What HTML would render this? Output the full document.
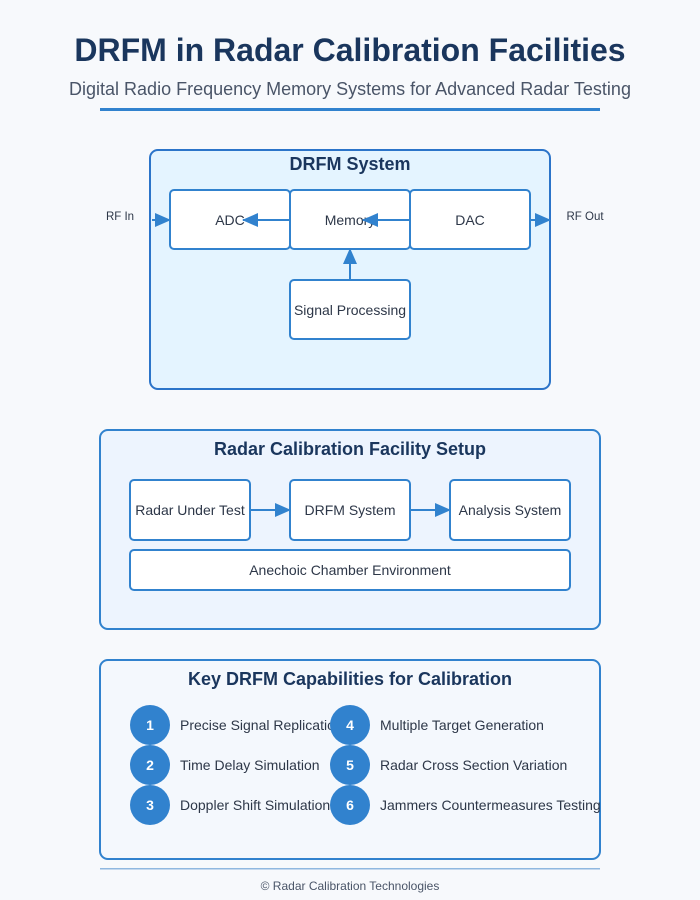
<!DOCTYPE html>
<html><head><meta charset="utf-8"><style>
body{margin:0;background:#f7f9fc;}
svg{display:block;font-family:"Liberation Sans",Arial,sans-serif;}
</style></head><body>
<svg width="700" height="900" viewBox="0 0 700 900">
<defs>
<marker id="b" markerWidth="16" markerHeight="14" refX="15" refY="7" orient="auto" markerUnits="userSpaceOnUse" viewBox="0 0 16 14">
<path d="M0,0 L16,7 L0,14 z" fill="#3182ce"/></marker>
</defs>
<rect width="700" height="900" fill="#f7f9fc"/>
<text x="350" y="61" text-anchor="middle" font-size="32" font-weight="bold" fill="#1a365d">DRFM in Radar Calibration Facilities</text>
<text x="350" y="95" text-anchor="middle" font-size="18" fill="#4a5568">Digital Radio Frequency Memory Systems for Advanced Radar Testing</text>
<rect x="100" y="108" width="500" height="3" fill="#3182ce"/>

<rect x="150" y="150" width="400" height="239" rx="8" fill="#e4f4ff" stroke="#2b74c9" stroke-width="2"/>
<text x="350" y="170" text-anchor="middle" font-size="18" font-weight="bold" fill="#1a365d">DRFM System</text>
<g fill="#fff" stroke="#3182ce" stroke-width="2">
<rect x="170" y="190" width="120" height="59" rx="4"/>
<rect x="290" y="190" width="120" height="59" rx="4"/>
<rect x="410" y="190" width="120" height="59" rx="4"/>
<rect x="290" y="280" width="120" height="59" rx="4"/>
</g>
<g font-size="14" fill="#2d3748" text-anchor="middle">
<text x="230" y="225">ADC</text><text x="350" y="225">Memory</text><text x="470" y="225">DAC</text>
<text x="350" y="315">Signal Processing</text>
</g>
<g stroke="#3182ce" stroke-width="2" fill="none">
<line x1="152" y1="220" x2="170" y2="220" marker-end="url(#b)"/>
<line x1="290" y1="220" x2="243" y2="220" marker-end="url(#b)"/>
<line x1="410" y1="220" x2="363" y2="220" marker-end="url(#b)"/>
<line x1="350" y1="280" x2="350" y2="249" marker-end="url(#b)"/>
<line x1="531" y1="220" x2="550" y2="220" marker-end="url(#b)"/>
</g>
<text x="120" y="220" text-anchor="middle" font-size="11.5" fill="#2d3748">RF In</text>
<text x="585" y="220" text-anchor="middle" font-size="11.5" fill="#2d3748">RF Out</text>

<rect x="100" y="430" width="500" height="199" rx="8" fill="#edf4fe" stroke="#3182ce" stroke-width="2"/>
<text x="350" y="455" text-anchor="middle" font-size="18" font-weight="bold" fill="#1a365d">Radar Calibration Facility Setup</text>
<g fill="#fff" stroke="#3182ce" stroke-width="2">
<rect x="130" y="480" width="120" height="60" rx="4"/>
<rect x="290" y="480" width="120" height="60" rx="4"/>
<rect x="450" y="480" width="120" height="60" rx="4"/>
<rect x="130" y="550" width="440" height="40" rx="4"/>
</g>
<g font-size="14" fill="#2d3748" text-anchor="middle">
<text x="190" y="515">Radar Under Test</text><text x="350" y="515">DRFM System</text><text x="510" y="515">Analysis System</text>
<text x="350" y="575">Anechoic Chamber Environment</text>
</g>
<g stroke="#3182ce" stroke-width="2">
<line x1="250" y1="510" x2="290" y2="510" marker-end="url(#b)"/>
<line x1="410" y1="510" x2="450" y2="510" marker-end="url(#b)"/>
</g>

<rect x="100" y="660" width="500" height="199" rx="8" fill="#f4f8fd" stroke="#3182ce" stroke-width="2"/>
<text x="350" y="685" text-anchor="middle" font-size="18" font-weight="bold" fill="#1a365d">Key DRFM Capabilities for Calibration</text>
<g fill="#3182ce">
<circle cx="150" cy="725" r="20"/><circle cx="150" cy="765" r="20"/><circle cx="150" cy="805" r="20"/>
</g>
<g font-size="14" font-weight="bold" fill="#fff" text-anchor="middle">
<text x="150" y="730">1</text><text x="150" y="770">2</text><text x="150" y="810">3</text>
</g>
<g font-size="14" fill="#2d3748">
<text x="180" y="730">Precise Signal Replication</text>
<text x="180" y="770">Time Delay Simulation</text>
<text x="180" y="810">Doppler Shift Simulation</text>
</g>
<g fill="#3182ce">
<circle cx="350" cy="725" r="20"/><circle cx="350" cy="765" r="20"/><circle cx="350" cy="805" r="20"/>
</g>
<g font-size="14" font-weight="bold" fill="#fff" text-anchor="middle">
<text x="350" y="730">4</text><text x="350" y="770">5</text><text x="350" y="810">6</text>
</g>
<g font-size="14" fill="#2d3748">
<text x="380" y="730">Multiple Target Generation</text>
<text x="380" y="770">Radar Cross Section Variation</text>
<text x="380" y="810">Jammers Countermeasures Testing</text>
</g>
<rect x="100" y="868" width="500" height="1.5" fill="#90b8e0"/>
<text x="350" y="890" text-anchor="middle" font-size="12" fill="#4a5568">© Radar Calibration Technologies</text>
</svg>
</body></html>
